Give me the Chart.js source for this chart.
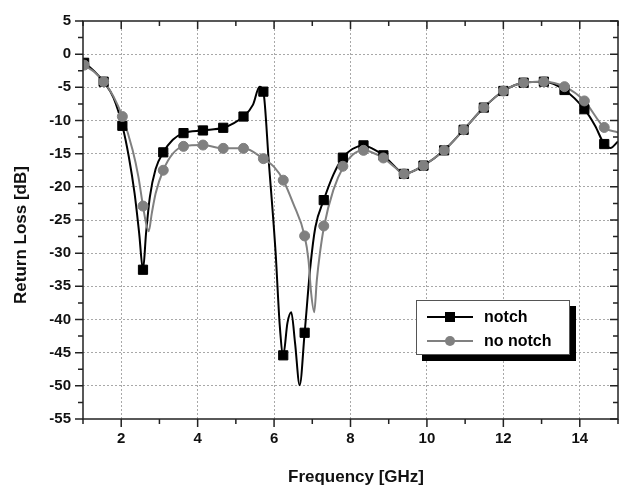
<!DOCTYPE html>
<html lang="en">
  <head>
    <meta charset="UTF-8" />
    <title>Return Loss</title>
    <script src="https://cdn.jsdelivr.net/npm/chart.js"></script>
    <style>
      html,
      body {
        width: 100%;
        height: 100%;
        margin: 0;
        padding: 0;
        background: #fff;
      }
      #wrap {
        position: relative;
        width: 629px;
        height: 489px;
      }
      #legend {
        position: absolute;
        left: 416px;
        top: 300px;
        width: 152px;
        height: 53px;
        background: #fff;
        border: 1px solid #555;
        box-shadow: 6px 6px 0 #000;
        font: bold 16px "Liberation Sans", Arial, sans-serif;
      }
      .row {
        position: absolute;
        left: 10px;
        height: 20px;
        width: 140px;
      }
      .row .ln {
        position: absolute;
        left: 0;
        top: 9px;
        width: 46px;
        height: 2px;
      }
      .row .mk {
        position: absolute;
        left: 18px;
        top: 5px;
        width: 10px;
        height: 10px;
      }
      .row span {
        position: absolute;
        left: 57px;
        top: 0;
        line-height: 20px;
      }
    </style>
  </head>
  <body>
    <div id="wrap">
      <canvas id="chart" width="629" height="489"></canvas>
      <div id="legend">
        <div class="row" style="top: 6px">
          <div class="ln" style="background: #000"></div>
          <div class="mk" style="background: #000"></div>
          <span>notch</span>
        </div>
        <div class="row" style="top: 30px">
          <div class="ln" style="background: #808080"></div>
          <div class="mk" style="background: #808080; border-radius: 50%"></div>
          <span>no notch</span>
        </div>
      </div>
    </div>

    <script>
      // curve points
      const freqNotch = [1.0, 1.03, 1.3, 1.54, 1.8, 2.03, 2.2, 2.35, 2.47, 2.57, 2.65, 2.75, 2.9, 3.1, 3.35, 3.63, 4.14, 4.67, 4.95, 5.2, 5.45, 5.62, 5.72, 5.86, 6.04, 6.15, 6.24, 6.35, 6.45, 6.55, 6.67, 6.8, 6.95, 7.08, 7.3, 7.55, 7.8, 8.05, 8.34, 8.6, 8.86, 9.15, 9.4, 9.91, 10.45, 10.96, 11.49, 12.0, 12.53, 13.06, 13.6, 14.12, 14.4, 14.64, 14.8, 15.0];
      const lossNotch = [-1.2, -1.3, -2.6, -4.15, -6.6, -10.8, -15.5, -21, -27, -32.5, -27, -21.5, -17.3, -14.8, -12.9, -11.9, -11.5, -11.1, -10.4, -9.4, -7.6, -4.9, -5.65, -16.1, -29.9, -41, -45.4, -40.5, -38.9, -43.6, -49.9, -42.0, -32, -26.1, -22.0, -18.2, -15.6, -14.3, -13.75, -14.3, -15.25, -16.9, -18.05, -16.8, -14.5, -11.4, -8.05, -5.55, -4.3, -4.15, -5.4, -8.3, -10.8, -13.55, -14.15, -13.15];

      const freqNoNotch = [1.0, 1.03, 1.3, 1.54, 1.8, 2.03, 2.3, 2.45, 2.57, 2.65, 2.72, 2.8, 2.9, 3.1, 3.35, 3.63, 4.14, 4.67, 5.2, 5.72, 6.0, 6.24, 6.5, 6.8, 6.9, 6.97, 7.05, 7.12, 7.2, 7.31, 7.55, 7.82, 8.05, 8.34, 8.6, 8.86, 9.15, 9.4, 9.91, 10.45, 10.96, 11.49, 12.0, 12.53, 13.06, 13.6, 14.12, 14.64, 15.0];
      const lossNoNotch = [-1.5, -1.65, -2.7, -4.15, -6.4, -9.4, -14.5, -18.5, -22.9, -25.5, -26.7, -24, -21, -17.5, -15, -13.9, -13.7, -14.2, -14.2, -15.75, -17, -19.0, -22.5, -27.4, -31, -36, -38.9, -34, -30, -25.9, -20.5, -16.9, -15.2, -14.5, -14.9, -15.65, -17, -18.05, -16.8, -14.5, -11.4, -8.05, -5.55, -4.3, -4.15, -4.9, -7.05, -11.05, -11.8];

      // marker positions
      const markFreq = [1.03, 1.54, 2.03, 2.57, 3.1, 3.63, 4.14, 4.67, 5.2, 5.72, 6.24, 6.8, 7.3, 7.8, 8.34, 8.86, 9.4, 9.91, 10.45, 10.96, 11.49, 12.0, 12.53, 13.06, 13.6, 14.12, 14.64];
      const markNotch = [-1.3, -4.15, -10.8, -32.5, -14.8, -11.9, -11.5, -11.1, -9.4, -5.65, -45.4, -42.0, -22.0, -15.6, -13.75, -15.25, -18.05, -16.8, -14.5, -11.4, -8.05, -5.55, -4.3, -4.15, -5.4, -8.3, -13.55];
      const markNoNotch = [-1.65, -4.15, -9.4, -22.9, -17.5, -13.9, -13.7, -14.2, -14.2, -15.75, -19.0, -27.4, -25.9, -16.9, -14.5, -15.65, -18.05, -16.8, -14.5, -11.4, -8.05, -5.55, -4.3, -4.15, -4.9, -7.05, -11.05];

      const xTitle = "Frequency [GHz]";
      const yTitle = "Return Loss [dB]";

      const pts = (xs, ys) => xs.map((x, i) => ({ x: x, y: ys[i] }));
      const FONT = "'Liberation Sans', Arial, sans-serif";
      const GRAY = "#808080";
      const GRID = "#a8a8a8";

      // frame, major/minor tick marks and axis titles
      const axesPlugin = {
        id: "axesFrame",
        afterDraw(chart) {
          const ctx = chart.ctx;
          const a = chart.chartArea;
          const xs = chart.scales.x;
          const ys = chart.scales.y;
          ctx.save();
          ctx.strokeStyle = "#222";
          ctx.lineWidth = 1.5;
          ctx.strokeRect(a.left, a.top, a.right - a.left, a.bottom - a.top);
          ctx.beginPath();
          for (let v = 1; v <= 15; v++) {
            const px = xs.getPixelForValue(v);
            const len = v % 2 === 0 ? 8 : 5;
            ctx.moveTo(px, a.bottom);
            ctx.lineTo(px, a.bottom + len);
            ctx.moveTo(px, a.top);
            ctx.lineTo(px, a.top + len);
          }
          for (let v = -55; v <= 5; v += 2.5) {
            const py = ys.getPixelForValue(v);
            const len = v % 5 === 0 ? 8 : 5;
            ctx.moveTo(a.left, py);
            ctx.lineTo(a.left - len, py);
            ctx.moveTo(a.right, py);
            ctx.lineTo(a.right - len, py);
          }
          ctx.stroke();

          ctx.fillStyle = "#111";
          ctx.font = "bold 17px " + FONT;
          ctx.textAlign = "center";
          ctx.textBaseline = "middle";
          ctx.fillText(xTitle, 356, 477);
          ctx.translate(21, 235);
          ctx.rotate(-Math.PI / 2);
          ctx.fillText(yTitle, 0, 0);
          ctx.restore();
        },
      };

      new Chart(document.getElementById("chart"), {
        type: "line",
        data: {
          datasets: [
            {
              label: "no notch markers",
              data: pts(markFreq, markNoNotch),
              showLine: false,
              pointStyle: "circle",
              pointRadius: 5,
              pointBackgroundColor: GRAY,
              pointBorderColor: GRAY,
              order: 0,
            },
            {
              label: "notch markers",
              data: pts(markFreq, markNotch),
              showLine: false,
              pointStyle: "rect",
              pointRadius: 6.5,
              pointBackgroundColor: "#000",
              pointBorderColor: "#000",
              order: 1,
            },
            {
              label: "no notch",
              data: pts(freqNoNotch, lossNoNotch),
              borderColor: GRAY,
              borderWidth: 2,
              pointRadius: 0,
              cubicInterpolationMode: "monotone",
              order: 2,
            },
            {
              label: "notch",
              data: pts(freqNotch, lossNotch),
              borderColor: "#000",
              borderWidth: 2,
              pointRadius: 0,
              cubicInterpolationMode: "monotone",
              order: 3,
            },
          ],
        },
        options: {
          responsive: false,
          animation: false,
          layout: { padding: { top: 19, right: 2, left: 0, bottom: 0 } },
          plugins: {
            legend: { display: false },
            tooltip: { enabled: false },
          },
          scales: {
            x: {
              type: "linear",
              min: 1,
              max: 15,
              border: { display: false, dash: [2, 2] },
              ticks: {
                stepSize: 1,
                padding: 11,
                color: "#111",
                font: { family: FONT, size: 15, weight: "bold" },
                callback: (v) => (v % 2 === 0 && v > 1 && v < 15 ? v : ""),
                maxRotation: 0,
                autoSkip: false,
              },
              grid: {
                drawTicks: false,
                color: (c) =>
                  c.tick && c.tick.value % 2 === 0 ? GRID : "rgba(0,0,0,0)",
                lineWidth: 1,
              },
              afterFit: (s) => {
                s.height = 70;
              },
            },
            y: {
              min: -55,
              max: 5,
              border: { display: false, dash: [2, 2] },
              ticks: {
                stepSize: 5,
                padding: 12,
                color: "#111",
                font: { family: FONT, size: 15, weight: "bold" },
              },
              grid: {
                drawTicks: false,
                color: (c) =>
                  c.tick && c.tick.value > -55 && c.tick.value < 5
                    ? GRID
                    : "rgba(0,0,0,0)",
              },
              afterFit: (s) => {
                s.width = 83;
              },
            },
          },
        },
        plugins: [axesPlugin],
      });
    </script>
  </body>
</html>
